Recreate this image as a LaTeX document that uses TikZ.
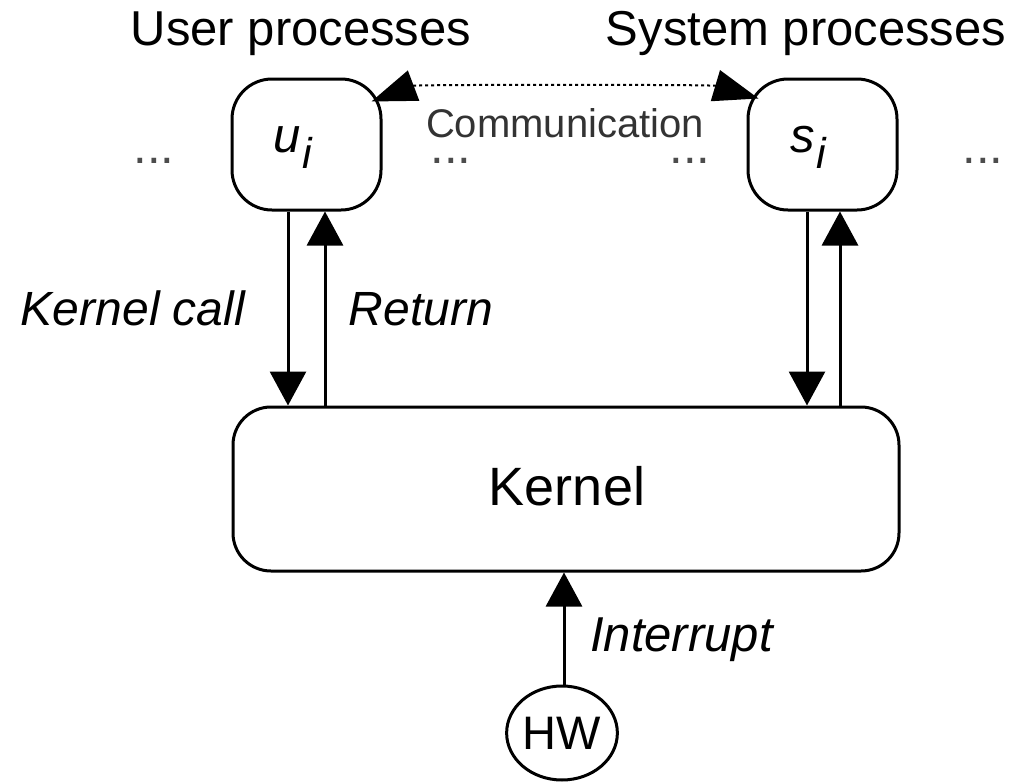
\documentclass[tikz,border=0pt]{standalone}
\usepackage{fontspec}
\setmainfont{Liberation Sans}
\usetikzlibrary{arrows.meta,shapes.geometric}
\begin{document}
\begin{tikzpicture}[x=1pt,y=-1pt,
  pbox/.style={draw, line width=3pt, rounded corners=40pt, inner sep=0pt},
  lbl/.style={anchor=base, inner sep=0pt, font=\fontsize{49}{55}\selectfont},
  ilbl/.style={anchor=base, inner sep=0pt, font=\fontsize{48}{55}\selectfont\itshape},
  dotsl/.style={anchor=base, inner sep=0pt, text height=6pt, text depth=0pt, text=black!70, font=\fontsize{49}{55}\selectfont},
  arr/.style={line width=3pt, -{Triangle[length=34pt,width=36pt]}},
  comm/.style={line width=2pt, dash pattern=on 3pt off 3pt,
    {Triangle[length=45pt,width=32pt]}-{Triangle[length=45pt,width=32pt]}}
]
\useasboundingbox (0,0) rectangle (1013,782);

% headings
\node[lbl] (uh) at (301,45) {User processes};
\node[lbl] (sh) at (806,45) {System processes};

% process boxes
\node[pbox, minimum width=149pt, minimum height=131pt] (u) at (306.5,144.5) {};
\node[pbox, minimum width=149pt, minimum height=131pt] (s) at (822.5,144.5) {};
\node[anchor=base west, inner sep=0pt, font=\fontsize{49}{55}\selectfont\itshape] (ul) at (273,152)
  {u\hspace{2pt}\raisebox{-16pt}{\fontsize{43}{45}\selectfont i}};
\node[anchor=base west, inner sep=0pt, font=\fontsize{49}{55}\selectfont\itshape] (sl) at (790,152)
  {s\hspace{2pt}\raisebox{-16pt}{\fontsize{43}{45}\selectfont i}};

% dots
\node[dotsl] (d1) at (154,163) {...};
\node[dotsl] (d2) at (451,163) {...};
\node[dotsl] (d3) at (690,163) {...};
\node[dotsl] (d4) at (983,163) {...};

% communication
\draw[comm] ([shift={(-11,24)}]u.north east) .. controls +(45,-17) and +(-47,-14) .. ([shift={(12,21)}]s.north west);
\node[anchor=base, inner sep=0pt, text=black!80, font=\fontsize{40}{45}\selectfont] (cl) at (565,137) {Communication};

% kernel
\node[pbox, rounded corners=38pt, minimum width=666pt, minimum height=164pt] (k) at (566,489) {};
\node[anchor=base, inner sep=0pt, font=\fontsize{54}{58}\selectfont] (kt) at (567,505) {Kernel};

% calls and returns
\draw[arr] ([xshift=-18.5pt]u.south) -- ([xshift=-18.5pt]u.south |- k.north);
\draw[arr] ([xshift=18.5pt]u.south |- k.north) -- ([xshift=18.5pt]u.south);
\draw[arr] ([xshift=-15.5pt]s.south) -- ([xshift=-15.5pt]s.south |- k.north);
\draw[arr] ([xshift=17.5pt]s.south |- k.north) -- ([xshift=17.5pt]s.south);
\node[ilbl] (kc) at (133,325) {Kernel call};
\node[ilbl] (rt) at (421,325) {Return};

% hardware
\node[draw, ellipse, line width=3pt, inner sep=0pt, minimum width=107pt, minimum height=94pt,
  font=\fontsize{47}{50}\selectfont] (hw) at (562,733) {HW};
\draw[arr] ([xshift=2pt]hw.north) -- ([xshift=2pt]hw.north |- k.south);
\node[anchor=base west, inner sep=0pt, font=\fontsize{49}{55}\selectfont\itshape] (it) at (590,651) {Interrupt};
\end{tikzpicture}
\end{document}
